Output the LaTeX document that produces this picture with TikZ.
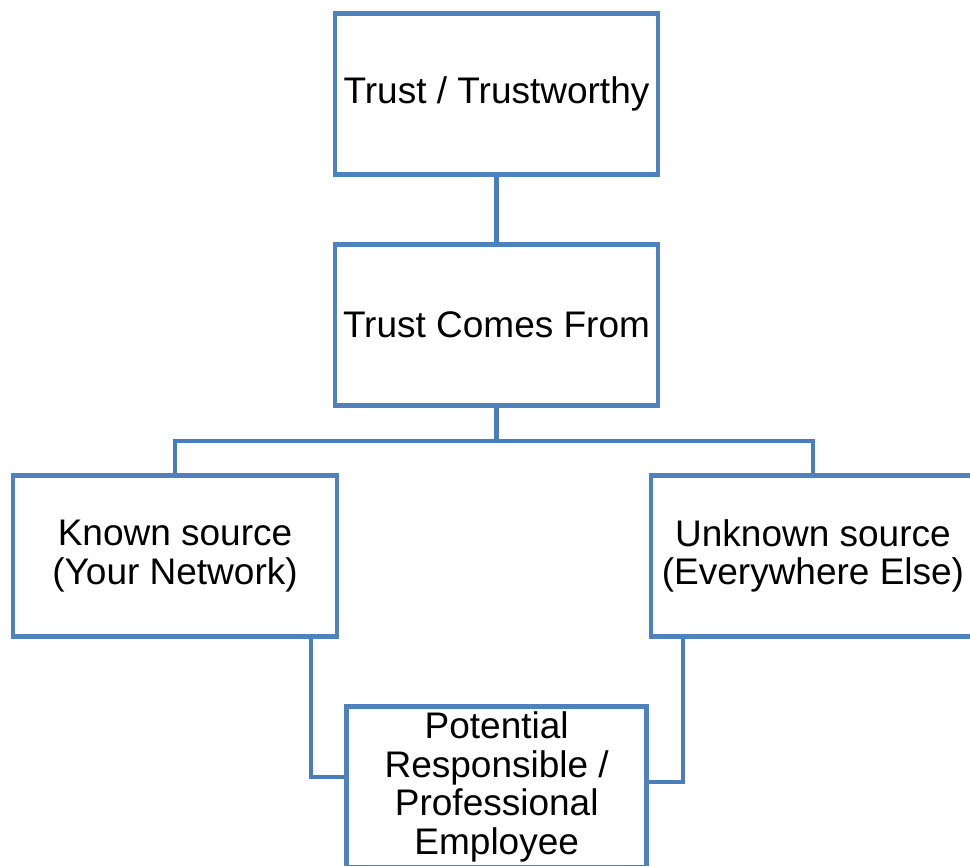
\documentclass[tikz,border=0pt]{standalone}
\usepackage{fontspec}
\setmainfont{Liberation Sans}
\definecolor{boxblue}{HTML}{4F81BD}
\definecolor{lineblue}{HTML}{4A7EBB}
\begin{document}
\begin{tikzpicture}[x=1pt,y=-1pt,
  box/.style={draw=boxblue,line width=4.5pt,fill=white,inner sep=0pt,align=center,
    font=\fontsize{37}{38.5}\selectfont,minimum width=323pt,minimum height=161pt},
  conn/.style={draw=lineblue,line width=4.5pt}]
\useasboundingbox (0,0) rectangle (970,866);
\clip (0,0) rectangle (970,866);
\node[box] (t1) at (496.5,94) {Trust / Trustworthy};
\node[box] (t2) at (496.5,325) {Trust Comes From};
\node[box,minimum width=324pt] (kn) at (175,556) {Known source\\(Your Network)};
\node[box,minimum width=324pt] (un) at (813,556) {Unknown source\\(Everywhere Else)};
\node[box,minimum width=300pt] (pe) at (496.7,787) {Potential\\Responsible /\\Professional\\Employee};
\coordinate (bus) at (496.5,441);
\coordinate (lj) at (311,777);
\coordinate (rj) at (683,782);
\draw[conn] (t1.south) -- (t2.north);
\draw[conn] (t2.south) -- (bus);
\draw[conn] (bus) -| (kn.north);
\draw[conn] (bus) -| (un.north);
\draw[conn] (kn.south -| lj) -- (lj) -- (lj -| pe.west);
\draw[conn] (un.south -| rj) -- (rj) -- (rj -| pe.east);
\end{tikzpicture}
\end{document}
